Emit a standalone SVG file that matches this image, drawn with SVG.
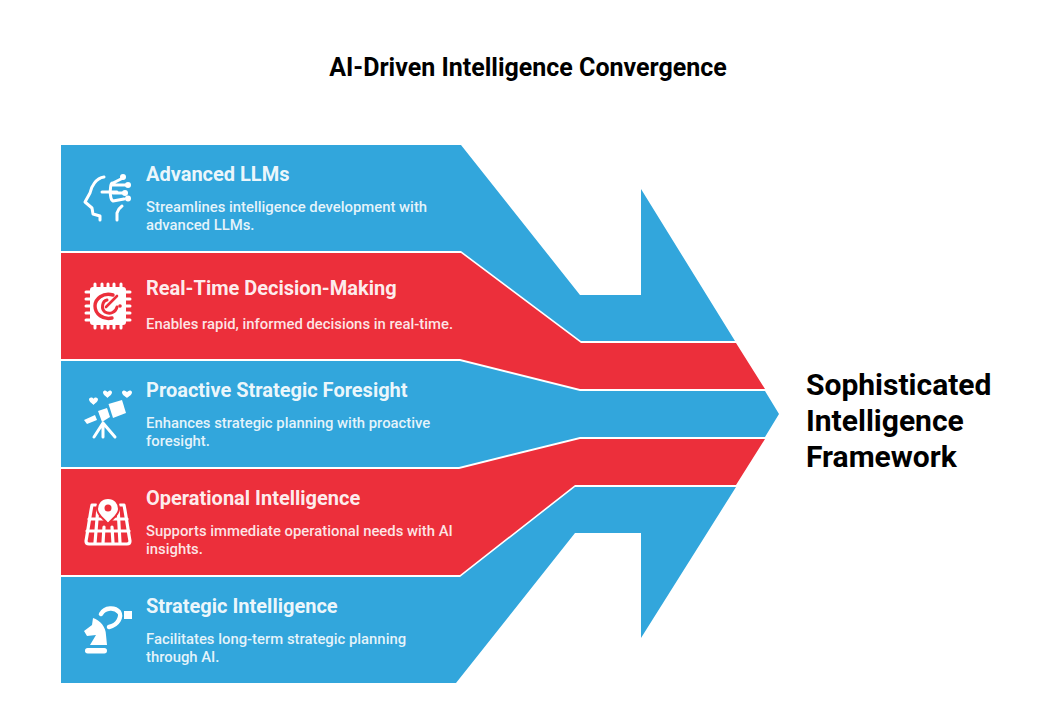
<svg xmlns="http://www.w3.org/2000/svg" width="1056" height="712" viewBox="0 0 1056 712">
<style>
text{font-family:Roboto,"Liberation Sans",sans-serif}
.t{font-size:25px;font-weight:700;fill:#000}
.big{font-size:30px;font-weight:700;fill:#000}
.h{font-size:20px;font-weight:700;fill:#fff;fill-opacity:.93}
.d{font-size:14.85px;font-weight:500;fill:#fff;fill-opacity:.88}
.b{fill:#32a6dc}.r{fill:#ec2f3b}
.ol{fill:none;stroke:#fff;stroke-width:3;stroke-linecap:round;stroke-linejoin:round}
.fl{fill:#fff;stroke:none}
</style>
<rect width="1056" height="712" fill="#fff"/>
<text class="t" x="528" y="75.500" text-anchor="middle">AI-Driven Intelligence Convergence</text>
<g id="advanced-llms">
<polygon class="b" points="61,145 461,145 580,295 641,295 641,189 735,341 581,341 461,251 61,251"/>
<g class="ol">
<path d="M104 177C96 178 91 187 90 193L85 202L92 208L93 214L100 216L100 220"/>
<path d="M117 220L117 213C118 210 119 208 122 206"/>
<path d="M102 192H117M112 183C110 184 111 188 110 192C111 196 110 200 113 201L124 199M113 183L123 178M112 185H127M113 193H125"/>
</g>
<g class="fl"><circle cx="123" cy="177" r="3"/><circle cx="128" cy="185" r="3"/><circle cx="125" cy="193" r="3"/><circle cx="128" cy="198.500" r="3"/></g>
<text class="h" x="146" y="181">Advanced LLMs</text>
<text class="d" x="146" y="212">Streamlines intelligence development with</text>
<text class="d" x="146" y="230">advanced LLMs.</text>
</g>
<g id="real-time-decision-making">
<polygon class="r" points="61,253 461,253 581,343 736,343 765,389 580,389 460,359 61,359"/>
<g>
<rect class="fl" x="90" y="287" width="36" height="38" rx="3"/>
<g class="ol" stroke-width="3.500"><path d="M95 284V289M102 284V289M108 284V289M114 284V289M121 284V289M95 323V328M102 323V328M108 323V328M114 323V328M121 323V328M86 292H91M86 299H91M86 306H91M86 313H91M86 320H91M125 292H130M125 299H130M125 306H130M125 313H130M125 320H130"/></g>
<path d="M113 295C103 292 95 299 95 306C95 314 103 320 112 318" fill="none" stroke="#ec2f3b" stroke-width="3.400" stroke-linecap="round"/>
<path d="M107 300C102 301 101 309 105 312C110 315 116 312 117 307" fill="none" stroke="#ec2f3b" stroke-width="3" stroke-linecap="round"/>
<path d="M106 307L117 296" stroke="#ec2f3b" stroke-width="2.600" stroke-linecap="round"/>
<circle cx="120" cy="306" r="1.800" fill="#ec2f3b"/>
</g>
<text class="h" x="146" y="295">Real-Time Decision-Making</text>
<text class="d" x="146" y="329">Enables rapid, informed decisions in real-time.</text>
</g>
<g id="proactive-strategic-foresight">
<polygon class="b" points="61,361 460,361 580,391 765,391 779,414 765,437 580,437 459,467 61,467"/>
<g class="fl">
<path d="M108.500 404L122 400L126 413L113 418Z"/>
<path d="M98 411L107 408L110 417L102 422Z"/>
<path d="M84 420L95 415L97 420L87 424Z"/>
</g>
<path class="ol" d="M103 423L94 437M103 423V437M103 423L115 437"/>
<g class="fl">
<path d="M89 399C90 397 93 397 93.500 399C94 397 97 397 98 399C98 402 95 403 93.500 405C92 403 89 402 89 399Z"/>
<path d="M103 392C104 390 106 390 107.500 392C109 390 111 390 112 392C112 395 109 396 107.500 398C106 396 103 395 103 392Z"/>
<path d="M122 392C123 390 125 390 127 392C129 390 131 390 132 392C132 395 129 396 127 398C125 396 122 395 122 392Z"/>
</g>
<text class="h" x="146" y="397">Proactive Strategic Foresight</text>
<text class="d" x="146" y="428">Enhances strategic planning with proactive</text>
<text class="d" x="146" y="446">foresight.</text>
</g>
<g id="operational-intelligence">
<polygon class="r" points="61,469 459,469 580,439 765,439 736,485 575,485 460,575 61,575"/>
<g class="ol" style="stroke-width:3.200">
<path d="M96 505L92 505C90 515 88 530 86 541C86 543 87 544 89 544H127C129 544 130 543 130 541C128 530 126 515 124 505L120 505"/>
<path d="M89 519H127M87 531H129M98 507L95 543M118 507L120 543M104 527L103 543M112 527L113 543"/>
</g>
<path class="fl" d="M108 498C101 498 97 503 97 509C97 515 104 519 108 524C112 519 119 515 119 509C119 503 115 498 108 498Z" style="stroke:#ec2f3b;stroke-width:2"/>
<circle cx="108" cy="508" r="3.500" fill="#ec2f3b"/>
<text class="h" x="146" y="505">Operational Intelligence</text>
<text class="d" x="146" y="536">Supports immediate operational needs with AI</text>
<text class="d" x="146" y="554">insights.</text>
</g>
<g id="strategic-intelligence">
<polygon class="b" points="61,577 460,577 575,487 736,487 641,638 641,533 575,533 456,683 61,683"/>
<g class="fl">
<path d="M93 618C100 620 106 627 106 635L107 645H90L96 635L87 636L84 631L92 625Z"/>
<rect x="85" y="648" width="22" height="5.500" rx="2.700"/>
<rect x="124" y="611" width="8" height="8"/>
</g>
<path d="M101 614C105 607 115 607 119 612C122 617 118 625 109 627" fill="none" stroke="#fff" stroke-width="4.500" stroke-linecap="round"/>
<circle cx="116.500" cy="615" r="1.500" fill="#32a6dc"/>
<text class="h" x="146" y="613">Strategic Intelligence</text>
<text class="d" x="146" y="644">Facilitates long-term strategic planning</text>
<text class="d" x="146" y="662">through AI.</text>
</g>
<g id="framework">
<text class="big" x="806" y="395">Sophisticated</text>
<text class="big" x="806" y="431">Intelligence</text>
<text class="big" x="806" y="467">Framework</text>
</g>
</svg>
